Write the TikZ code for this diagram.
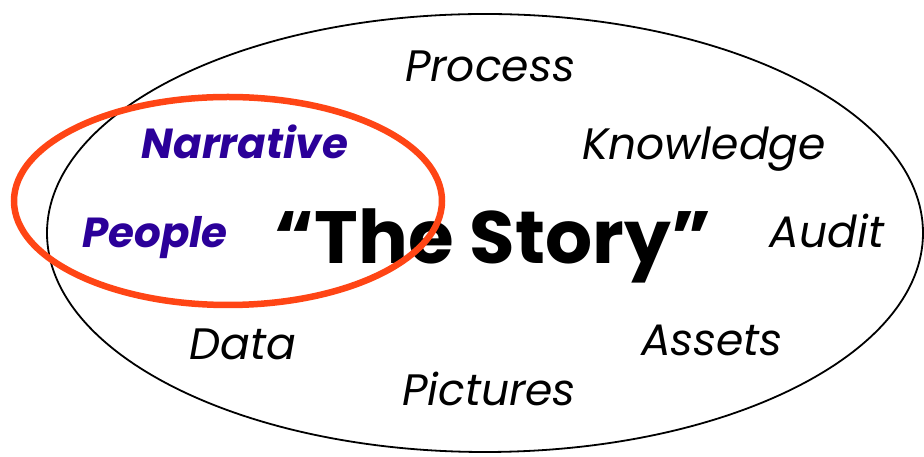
\documentclass[tikz,border=0pt]{standalone}
\usepackage{fontspec}
\setmainfont{Poppins}
\definecolor{storyred}{HTML}{FF4515}
\definecolor{storyblue}{HTML}{2B0099}
\tikzset{
  word/.style={anchor=base, inner sep=0pt, font=\fontsize{44}{48}\selectfont\itshape},
  keyword/.style={word, text=storyblue, font=\fontsize{42}{46}\selectfont\bfseries\itshape},
  title/.style={anchor=base, inner sep=0pt, font=\fontsize{74}{80}\selectfont\bfseries}
}

\begin{document}
\begin{tikzpicture}[x=1pt,y=1pt]
    \useasboundingbox (0,0) rectangle (924,457);
    \draw[line width=1.8] (485,224) ellipse (438 and 219);
    \node[word] (process) at (490,375) {Process};
    \node[word] (knowledge) at (704,297) {Knowledge};
    \node[keyword] (narrative) at (245,298) {Narrative};
    \node[keyword] (people) at (155,209) {People};
    \node[title] (story) at (493,193) {“The Story”};
    \node[word] (audit) at (827,209) {Audit};
    \node[word] (data) at (243,97) {Data};
    \node[word] (assets) at (712,101) {Assets};
    \node[word] (pictures) at (489,51) {Pictures};
    \draw[storyred, line width=6.5] (228,256) ellipse (214 and 104);
\end{tikzpicture}
\end{document}
